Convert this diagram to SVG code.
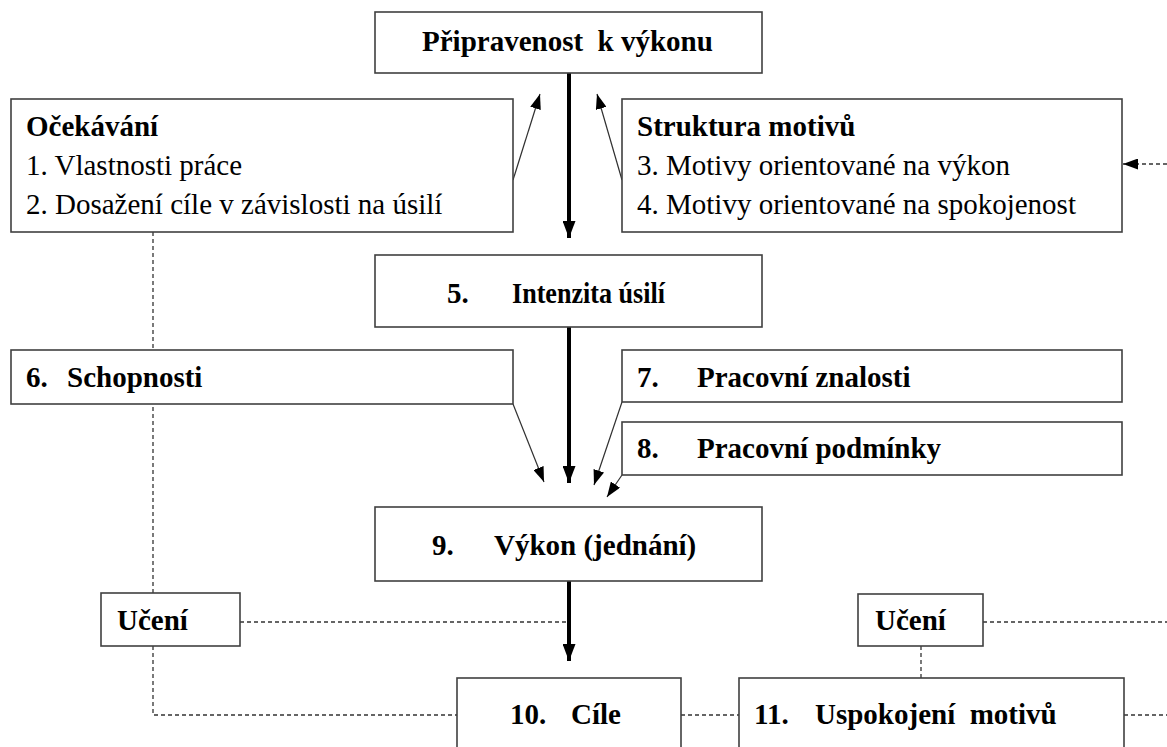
<svg xmlns="http://www.w3.org/2000/svg" width="1167" height="747" viewBox="0 0 1167 747">
<style>
.box{fill:#fff;stroke:#404040;stroke-width:1.6}
.t{font-family:"Liberation Serif","Times New Roman",serif;font-size:29px;fill:#000}
.b{font-weight:bold}
.thick{stroke:#000;stroke-width:4;fill:none}
.thin{stroke:#303030;stroke-width:1.2;fill:none}
.dash{stroke:#333;stroke-width:1.3;stroke-dasharray:4 3;fill:none}
</style>
<defs>
<marker id="big" viewBox="0 0 17 13" refX="17" refY="6.5" markerWidth="17" markerHeight="13" orient="auto" markerUnits="userSpaceOnUse"><path d="M0,0 L17,6.5 L0,13 z" fill="#000"/></marker>
<marker id="sm" viewBox="0 0 15 11" refX="15" refY="5.5" markerWidth="15" markerHeight="11" orient="auto" markerUnits="userSpaceOnUse"><path d="M0,0 L15,5.5 L0,11 z" fill="#000"/></marker>
</defs>
<rect width="1167" height="747" fill="#fff"/>
<g id="connectors">
<path class="dash" d="M153,232 V593"/>
<path class="dash" d="M153,646 V715 H457"/>
<path class="dash" d="M240,622 H569"/>
<path class="dash" d="M681,715 H739"/>
<path class="dash" d="M1124,715 H1167"/>
<path class="dash" d="M983,622 H1167"/>
<path class="dash" d="M921,646 V678"/>
<path class="dash" d="M1167,164 H1123" marker-end="url(#sm)"/>
<path class="thick" d="M569,73 V238" marker-end="url(#big)"/>
<path class="thick" d="M569,327 V483" marker-end="url(#big)"/>
<path class="thick" d="M569,581 V661" marker-end="url(#big)"/>
<path class="thin" d="M513,180 L540,94" marker-end="url(#sm)"/>
<path class="thin" d="M622,180 L597,94" marker-end="url(#sm)"/>
<path class="thin" d="M513,404 L544,482" marker-end="url(#sm)"/>
<path class="thin" d="M622,402 L594,485" marker-end="url(#sm)"/>
<path class="thin" d="M622,475 L607,497" marker-end="url(#sm)"/>
</g>
<g id="pripravenost">
<rect class="box" x="375" y="12" width="387" height="61"/>
<text class="t b" x="422" y="51" xml:space="preserve">Připravenost  k výkonu</text>
</g>
<g id="ocekavani">
<rect class="box" x="11" y="99" width="502" height="133"/>
<text class="t b" x="26" y="136">Očekávání</text>
<text class="t" x="26" y="175">1. Vlastnosti práce</text>
<text class="t" x="26" y="214">2. Dosažení cíle v závislosti na úsilí</text>
</g>
<g id="struktura">
<rect class="box" x="622" y="99" width="500" height="133"/>
<text class="t b" x="637" y="136">Struktura motivů</text>
<text class="t" x="637" y="175">3. Motivy orientované na výkon</text>
<text class="t" x="637" y="214">4. Motivy orientované na spokojenost</text>
</g>
<g id="intenzita">
<rect class="box" x="375" y="255" width="387" height="72"/>
<text class="t b" x="447" y="303">5.</text>
<text class="t b" x="512" y="303" textLength="153" lengthAdjust="spacingAndGlyphs">Intenzita úsilí</text>
</g>
<g id="schopnosti">
<rect class="box" x="11" y="350" width="502" height="54"/>
<text class="t b" x="26" y="387">6.</text>
<text class="t b" x="67" y="387">Schopnosti</text>
</g>
<g id="znalosti">
<rect class="box" x="622" y="350" width="500" height="52"/>
<text class="t b" x="637" y="387">7.</text>
<text class="t b" x="697" y="387">Pracovní znalosti</text>
</g>
<g id="podminky">
<rect class="box" x="622" y="422" width="500" height="53"/>
<text class="t b" x="637" y="458">8.</text>
<text class="t b" x="697" y="458">Pracovní podmínky</text>
</g>
<g id="vykon">
<rect class="box" x="375" y="507" width="387" height="74"/>
<text class="t b" x="432" y="555">9.</text>
<text class="t b" x="494" y="555">Výkon (jednání)</text>
</g>
<g id="uceni1">
<rect class="box" x="101" y="593" width="139" height="53"/>
<text class="t b" x="117" y="630">Učení</text>
</g>
<g id="uceni2">
<rect class="box" x="858" y="594" width="125" height="52"/>
<text class="t b" x="875" y="630">Učení</text>
</g>
<g id="cile">
<rect class="box" x="457" y="678" width="224" height="80"/>
<text class="t b" x="510" y="724">10.</text>
<text class="t b" x="571" y="724">Cíle</text>
</g>
<g id="uspokojeni">
<rect class="box" x="739" y="678" width="385" height="80"/>
<text class="t b" x="754" y="724">11.</text>
<text class="t b" x="815" y="724" xml:space="preserve">Uspokojení  motivů</text>
</g>
</svg>
